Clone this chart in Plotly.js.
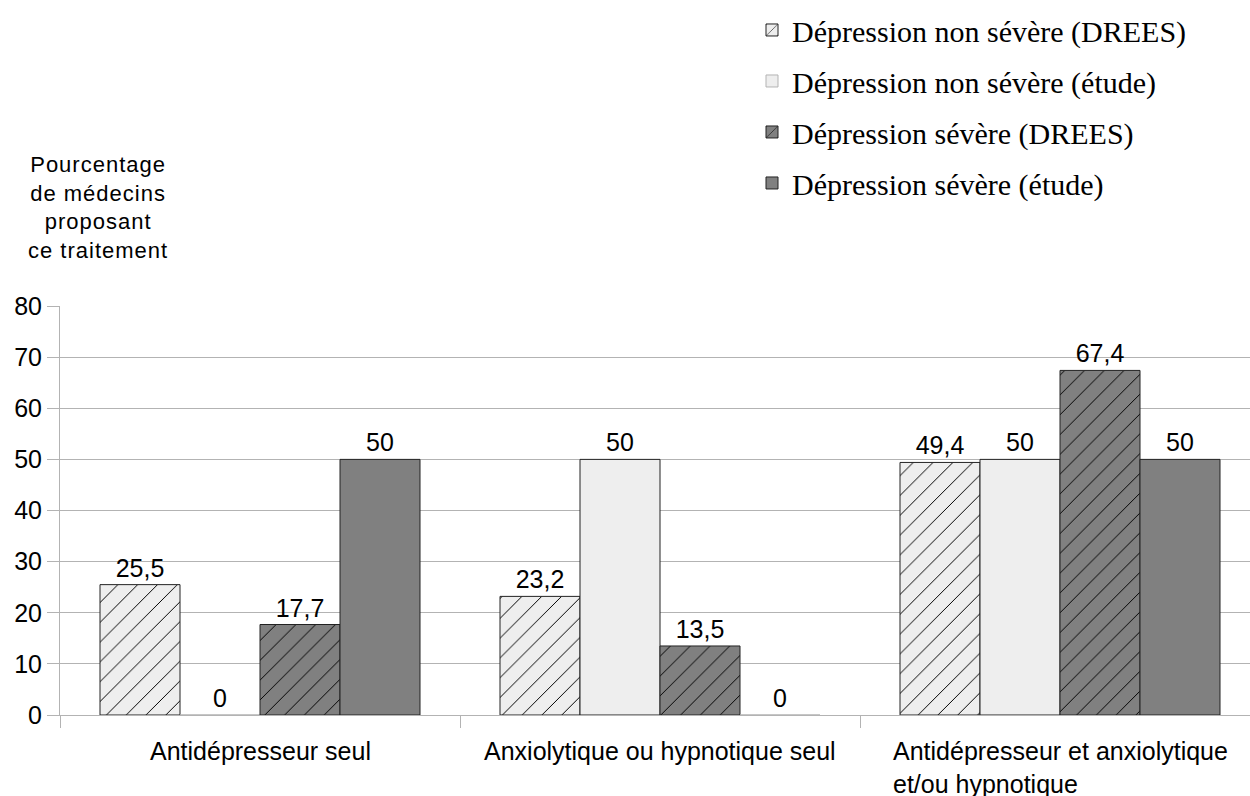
<!DOCTYPE html>
<html>
<head>
<meta charset="utf-8">
<script src="https://cdn.plot.ly/plotly-3.0.1.min.js"></script>
<style>
  html, body { margin: 0; padding: 0; background: #fff; }
  #chart { width: 1250px; height: 796px; }
</style>
</head>
<body>
<div id="chart"></div>
<script>
// Categories of treatment proposed
const categories = [
  "Antidépresseur seul",
  "Anxiolytique ou hypnotique seul",
  "Antidépresseur et anxiolytique<br>et/ou hypnotique"
];

// Series names
const seriesNames = [
  "Dépression non sévère (DREES)",
  "Dépression non sévère (étude)",
  "Dépression sévère (DREES)",
  "Dépression sévère (étude)"
];

// Percentage of physicians proposing each treatment
const nonSevereDrees = [25.5, 23.2, 49.4];
const nonSevereEtude = [0, 50, 50];
const severeDrees    = [17.7, 13.5, 67.4];
const severeEtude    = [50, 0, 50];

const yTickValues = [0, 10, 20, 30, 40, 50, 60, 70, 80];

const LIGHT = "#eeeeee";
const DARK = "#808080";
const GRID = "#b3b3b3";
const OUTLINE = "#222";
const SANS = "Liberation Sans, Arial, sans-serif";
const SERIF = "Liberation Serif, Times New Roman, serif";

const fmt = v => String(v).replace(".", ",");
const idx = categories.map((_, i) => i);

function barTrace(name, values, fill, hatched, group) {
  return {
    type: "bar",
    name: name,
    x: idx,
    y: values,
    text: values.map(fmt),
    textposition: "outside",
    cliponaxis: false,
    textfont: { family: SANS, size: 25, color: "#000" },
    legendgroup: group,
    marker: {
      color: fill,
      // empty bars keep the grey baseline colour
      line: { color: values.map(v => (v === 0 ? GRID : OUTLINE)), width: 1 },
      pattern: hatched
        ? { shape: "/", fillmode: "replace", bgcolor: fill, fgcolor: "#000", size: 14, solidity: 0.07 }
        : { shape: "" }
    },
    hoverinfo: "skip"
  };
}

const data = [
  barTrace(seriesNames[0], nonSevereDrees, LIGHT, true, "g1"),
  barTrace(seriesNames[1], nonSevereEtude, LIGHT, false, "g2"),
  barTrace(seriesNames[2], severeDrees, DARK, true, "g3"),
  barTrace(seriesNames[3], severeEtude, DARK, false, "g4")
];

// Category labels below the axis, left-aligned lines within each block
const catAnnotations = categories.map((c, i) => ({
  text: c,
  x: i,
  xref: "x",
  y: -0.049,
  yref: "paper",
  xanchor: "center",
  yanchor: "top",
  align: "left",
  showarrow: false,
  font: { family: SANS, size: 25, color: "#000" }
}));

const yTitle = ["Pourcentage", "de médecins", "proposant", "ce traitement"]
  .map(s => '<span style="letter-spacing:1px">' + s + "</span>")
  .join("<br>");

const layout = {
  width: 1250,
  height: 796,
  paper_bgcolor: "#fff",
  plot_bgcolor: "#fff",
  margin: { l: 60, r: 0, t: 306, b: 81, pad: 0, autoexpand: false },
  barmode: "group",
  bargap: 0.2,
  bargroupgap: 0,
  showlegend: true,
  legend: {
    xref: "container",
    yref: "container",
    x: 0.6016,
    y: 0.995,
    xanchor: "left",
    yanchor: "top",
    font: { family: SERIF, size: 30, color: "#000" },
    tracegroupgap: 9,
    bgcolor: "rgba(0,0,0,0)"
  },
  xaxis: {
    type: "linear",
    range: [-0.5, 2.475],
    tickmode: "array",
    tickvals: [-0.5, 0.5, 1.5, 2.5],
    showticklabels: false,
    ticks: "outside",
    ticklen: 12,
    tickcolor: GRID,
    showgrid: false,
    zeroline: false,
    showline: true,
    linecolor: GRID,
    linewidth: 1,
    layer: "above traces",
    fixedrange: true
  },
  yaxis: {
    range: [0, 80],
    tickmode: "array",
    tickvals: yTickValues,
    ticktext: yTickValues.map(String),
    ticks: "outside",
    ticklen: 12,
    tickcolor: GRID,
    tickfont: { family: SANS, size: 25, color: "#000" },
    showgrid: true,
    gridcolor: GRID,
    gridwidth: 1,
    zeroline: false,
    showline: true,
    linecolor: GRID,
    linewidth: 1,
    fixedrange: true
  },
  annotations: [
    {
      text: yTitle,
      xref: "paper",
      yref: "paper",
      x: (98 - 60) / 1190,
      y: (715 - 208) / 409,
      xanchor: "center",
      yanchor: "middle",
      align: "center",
      showarrow: false,
      font: { family: SANS, size: 22, color: "#000" }
    }
  ].concat(catAnnotations)
};

Plotly.newPlot("chart", data, layout, { displayModeBar: false, staticPlot: true });
</script>
</body>
</html>
